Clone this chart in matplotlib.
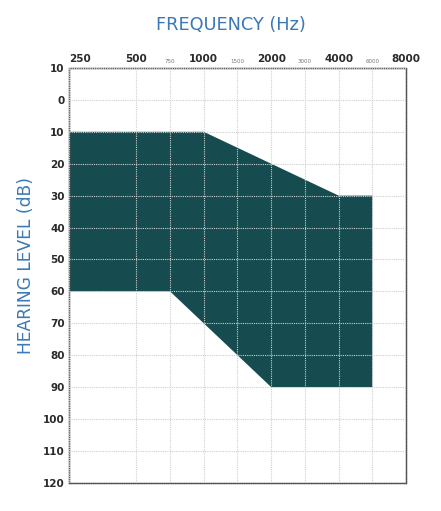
import numpy as np
import matplotlib.pyplot as plt

# audiogram axes: standard test frequencies, half-octave frequencies sit midway
freq_ticks = [250, 500, 750, 1000, 1500, 2000, 3000, 4000, 6000, 8000]
freq_pos = [0, 1, 1.5, 2, 2.5, 3, 3.5, 4, 4.5, 5]
major_freqs = [250, 500, 1000, 2000, 4000, 8000]
level_ticks = list(range(-10, 121, 10))
level_labels = ["10", "0", "10", "20", "30", "40", "50", "60", "70", "80",
                "90", "100", "110", "120"]

# shaded hearing-loss region (frequency in Hz, level in dB)
region_freq = [250, 1000, 2000, 4000, 6000, 6000, 2000, 1500, 1000, 750, 250]
region_db = [10, 10, 20, 30, 30, 90, 90, 80, 70, 60, 60]

BLUE = "#3b79b6"
TEAL = "#164c50"

_logf = np.log2(freq_ticks)


def _forward(f):
    f = np.clip(np.asarray(f, dtype=float), 1e-3, None)
    return np.interp(np.log2(f), _logf, freq_pos)


def _inverse(x):
    return 2 ** np.interp(x, freq_pos, _logf)


fig = plt.figure(figsize=(4.41, 5.11), dpi=100)
ax = fig.add_axes([0.156, 0.055, 0.765, 0.812])
ax.set_xscale("function", functions=(_forward, _inverse))

ax.fill(region_freq, region_db, color=TEAL, lw=0, zorder=1)

ax.set_xlim(250, 8000)
ax.set_ylim(120, -10)

ax.set_xticks(freq_ticks)
ax.set_xticklabels([str(f) for f in freq_ticks])
ax.xaxis.tick_top()
for f, lbl in zip(freq_ticks, ax.get_xticklabels()):
    if f in major_freqs:
        lbl.set_fontsize(7.5)
        lbl.set_fontweight("bold")
        lbl.set_color("#2a2a2a")
    else:
        lbl.set_fontsize(4)
        lbl.set_color("#777777")
ax.get_xticklabels()[0].set_horizontalalignment("left")

ax.set_yticks(level_ticks)
ax.set_yticklabels(level_labels, fontsize=7.5, fontweight="bold", color="#2a2a2a")
ax.tick_params(axis="both", length=0, pad=3)
ax.xaxis.set_minor_locator(plt.NullLocator())

ax.grid(True, linestyle=(0, (1, 1)), color="#cfcfcf", lw=0.8, zorder=2)
ax.set_axisbelow(False)
for sp in ax.spines.values():
    sp.set_linestyle((0, (1, 0.6)))
    sp.set_color("#555555")
    sp.set_linewidth(1.0)

fig.text(0.524, 0.951, "FREQUENCY (Hz)", color=BLUE, fontsize=12.8,
         ha="center", va="center")
fig.text(0.060, 0.481, "HEARING LEVEL (dB)", color=BLUE, fontsize=12.3,
         rotation=90, ha="center", va="center")

fig.savefig("out.png", dpi=100)
